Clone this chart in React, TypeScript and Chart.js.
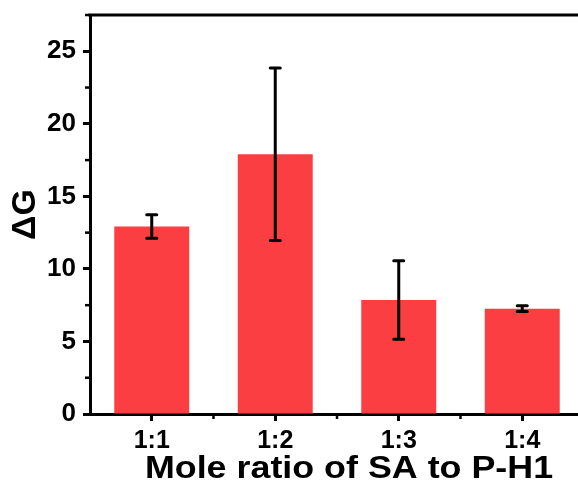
import React, { useEffect, useRef } from "react";
import { Chart, registerables } from "chart.js";

Chart.register(...registerables);

const categories = ["1:1", "1:2", "1:3", "1:4"];
const meanValues = [12.92, 17.9, 7.86, 7.26];
const sdValues = [0.81, 5.95, 2.71, 0.2];
const yTickValues = [0, 5, 10, 15, 20, 25];
const yMinorValues = [2.5, 7.5, 12.5, 17.5, 22.5, 27.5];
const xTitle = "Mole ratio of SA to P-H1";
const yTitle = "ΔG";

const FONT = "'Liberation Sans', Arial, sans-serif";
const BAR_COLOR = "#FB3E42";

const decorPlugin = {
  id: "decor",
  afterDatasetsDraw(chart: any) {
    const { ctx, chartArea, scales } = chart;
    const xs = scales.x;
    const ys = scales.y;
    ctx.save();
    // error bars
    ctx.strokeStyle = "#000";
    ctx.lineWidth = 3;
    ctx.lineCap = "round";
    meanValues.forEach((m, i) => {
      const x = xs.getPixelForValue(i);
      const yt = ys.getPixelForValue(m + sdValues[i]);
      const yb = ys.getPixelForValue(m - sdValues[i]);
      ctx.beginPath();
      ctx.moveTo(x, yt);
      ctx.lineTo(x, yb);
      ctx.moveTo(x - 5, yt);
      ctx.lineTo(x + 5, yt);
      ctx.moveTo(x - 5, yb);
      ctx.lineTo(x + 5, yb);
      ctx.stroke();
    });
    ctx.lineCap = "butt";
    // top frame line
    ctx.beginPath();
    ctx.moveTo(chartArea.left - 1.5, chartArea.top);
    ctx.lineTo(chartArea.right, chartArea.top);
    ctx.stroke();
    // minor y ticks
    ctx.lineWidth = 2.5;
    yMinorValues.forEach((v) => {
      const y = ys.getPixelForValue(v);
      ctx.beginPath();
      ctx.moveTo(chartArea.left - 5, y);
      ctx.lineTo(chartArea.left, y);
      ctx.stroke();
    });
    // minor x ticks (between categories)
    for (let i = 0; i < categories.length - 1; i++) {
      const x = (xs.getPixelForValue(i) + xs.getPixelForValue(i + 1)) / 2;
      ctx.beginPath();
      ctx.moveTo(x, chartArea.bottom);
      ctx.lineTo(x, chartArea.bottom + 5);
      ctx.stroke();
    }
    // x axis title
    ctx.fillStyle = "#000";
    ctx.font = `bold 32px ${FONT}`;
    ctx.textAlign = "center";
    ctx.textBaseline = "alphabetic";
    ctx.translate(349, 478);
    ctx.scale(1.12, 1);
    ctx.fillText(xTitle, 0, 0);
    ctx.restore();
  },
};

export default function App() {
  const ref = useRef<HTMLCanvasElement | null>(null);
  useEffect(() => {
    if (!ref.current) return;
    const chart = new Chart(ref.current, {
      type: "bar",
      data: {
        labels: categories,
        datasets: [
          {
            data: meanValues,
            backgroundColor: BAR_COLOR,
            borderWidth: 0,
            categoryPercentage: 1,
            barPercentage: 0.607,
          },
        ],
      },
      plugins: [decorPlugin],
      options: {
        animation: false,
        responsive: true,
        maintainAspectRatio: false,
        layout: { padding: { top: 15, left: 0, right: 0, bottom: 0 } },
        plugins: { legend: { display: false }, tooltip: { enabled: false } },
        scales: {
          x: {
            offset: true,
            grid: {
              offset: false,
              display: true,
              drawOnChartArea: false,
              drawTicks: true,
              tickLength: 7,
              tickWidth: 3,
              tickColor: "#000",
            },
            border: { display: true, width: 3, color: "#000" },
            ticks: {
              color: "#000",
              padding: 5,
              font: { family: FONT, size: 25, weight: "bold" },
            },
            title: { display: false },
            afterFit: (s: any) => {
              s.height = 70;
              s.paddingLeft = 0;
              s.paddingRight = 0;
            },
          },
          y: {
            min: 0,
            max: 27.5,
            afterBuildTicks: (s: any) => {
              s.ticks = yTickValues.map((v) => ({ value: v }));
            },
            grid: {
              display: true,
              drawOnChartArea: false,
              drawTicks: true,
              tickLength: 7,
              tickWidth: 3,
              tickColor: "#000",
            },
            border: { display: true, width: 3, color: "#000" },
            ticks: {
              color: "#000",
              padding: 7,
              font: { family: FONT, size: 26, weight: "bold" },
            },
            title: {
              display: true,
              text: yTitle,
              color: "#000",
              font: { family: FONT, size: 34, weight: "bold", lineHeight: 1 },
              padding: { top: 9, bottom: 0 },
            },
            afterFit: (s: any) => {
              s.width = 90;
              s.paddingTop = 0;
              s.paddingBottom = 0;
            },
          },
        },
      },
    });
    return () => chart.destroy();
  }, []);
  return (
    <div
      style={{
        position: "fixed",
        left: 0,
        top: 0,
        width: 578,
        height: 484,
        overflow: "hidden",
        background: "#fff",
      }}
    >
      <div style={{ position: "relative", width: 584, height: 484 }}>
        <canvas ref={ref} />
      </div>
    </div>
  );
}
